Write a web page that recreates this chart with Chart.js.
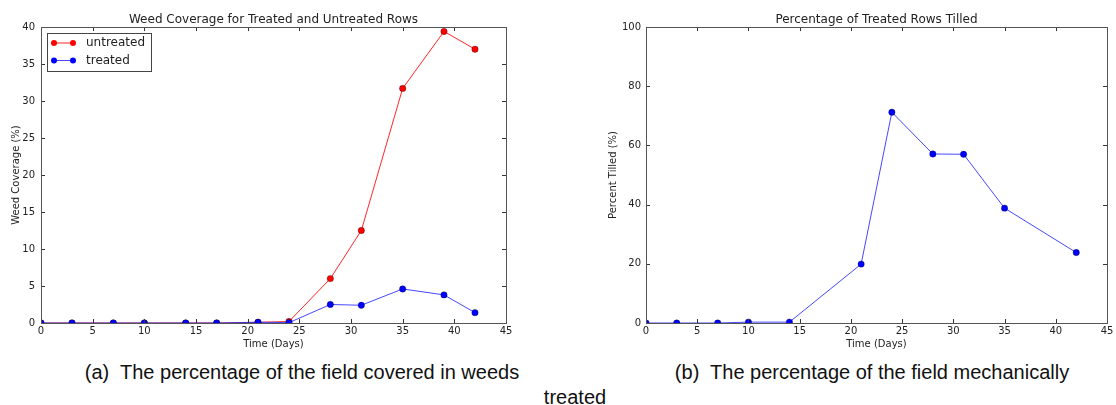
<!DOCTYPE html>
<html>
<head>
<meta charset="utf-8">
<script src="https://cdn.jsdelivr.net/npm/chart.js@4/dist/chart.umd.min.js"></script>
<style>
    body { margin: 0; background: #fff; width: 1116px; height: 405px; overflow: hidden; position: relative; }
    canvas { position: absolute; top: 0; }
    #weedChart { left: 0; }
    #tillChart { left: 590px; }
    .caption { position: absolute; font-family: 'Liberation Sans', Arial, sans-serif; font-size: 20px; color: #111; white-space: pre; transform: translateX(-50%); }
</style>
</head>
<body>
<canvas id="weedChart" width="520" height="352"></canvas>
<canvas id="tillChart" width="526" height="352"></canvas>
<div class="caption" style="left:302px; top:361px;">(a)  The percentage of the field covered in weeds</div>
<div class="caption" style="left:872px; top:361px;">(b)  The percentage of the field mechanically</div>
<div class="caption" style="left:575px; top:386px;">treated</div>
<script>
// weed coverage (left)
const weedDays = [0, 3, 7, 10, 14, 17, 21, 24, 28, 31, 35, 39, 42];
const untreated = [0, 0, 0, 0, 0, 0, 0.1, 0.2, 6.0, 12.5, 31.7, 39.4, 37.0];
const treated = [0, 0, 0, 0, 0, 0, 0.1, 0.05, 2.5, 2.4, 4.6, 3.8, 1.4];

// tilled rows (right)
const tillDays = [0, 3, 7, 10, 14, 21, 24, 28, 31, 35, 42];
const tilled = [0, 0, 0, 0.3, 0.3, 19.9, 71.2, 57.1, 57.0, 38.8, 23.8];

const xTicks = [0, 5, 10, 15, 20, 25, 30, 35, 40, 45];
const weedTicks = [0, 5, 10, 15, 20, 25, 30, 35, 40];
const tillTicks = [0, 20, 40, 60, 80, 100];

const FONT = "'DejaVu Sans', Verdana, sans-serif";

function pts(xs, ys) {
    return xs.map((x, i) => ({ x: x, y: ys[i] }));
}

// matplotlib style frame, inward ticks and title over the axes
const framePlugin = {
    id: 'frame',
    afterDraw(chart, args, opts) {
        const { ctx, chartArea: a } = chart;
        const xs = chart.scales.x, ys = chart.scales.y;
        ctx.save();
        ctx.strokeStyle = '#333';
        ctx.lineWidth = 1;
        ctx.beginPath();
        xs.ticks.forEach(t => {
            const px = Math.round(xs.getPixelForValue(t.value)) + 0.5;
            ctx.moveTo(px, a.bottom); ctx.lineTo(px, a.bottom - 4);
            ctx.moveTo(px, a.top); ctx.lineTo(px, a.top + 4);
        });
        ys.ticks.forEach(t => {
            const py = Math.round(ys.getPixelForValue(t.value)) + 0.5;
            ctx.moveTo(a.left, py); ctx.lineTo(a.left + 4, py);
            ctx.moveTo(a.right, py); ctx.lineTo(a.right - 4, py);
        });
        ctx.stroke();
        ctx.strokeStyle = '#555';
        ctx.strokeRect(Math.round(a.left) + 0.5, Math.round(a.top) + 0.5,
            Math.round(a.right - a.left), Math.round(a.bottom - a.top));
        ctx.fillStyle = '#222';
        ctx.font = '12px ' + FONT;
        ctx.textAlign = 'center';
        ctx.textBaseline = 'alphabetic';
        ctx.fillText(opts.title, (a.left + a.right) / 2, a.top - 4);
        ctx.restore();
    }
};

// legend drawn inside the plot, upper left
const boxLegend = {
    id: 'boxLegend',
    afterDraw(chart, args, opts) {
        if (!opts.show) return;
        const { ctx, chartArea: a } = chart;
        const x0 = a.left + 6, y0 = a.top + 6;
        ctx.save();
        ctx.fillStyle = '#fff';
        ctx.fillRect(x0, y0, 104, 38);
        ctx.strokeStyle = '#444';
        ctx.lineWidth = 1;
        ctx.strokeRect(x0 + 0.5, y0 + 0.5, 104, 38);
        const items = [...chart.data.datasets].sort((p, q) => q.order - p.order);
        items.forEach((ds, i) => {
            const y = y0 + 10 + i * 17.5;
            ctx.strokeStyle = ds.borderColor;
            ctx.beginPath();
            ctx.moveTo(x0 + 7, y); ctx.lineTo(x0 + 26, y);
            ctx.stroke();
            ctx.fillStyle = ds.pointBackgroundColor;
            [x0 + 7, x0 + 26].forEach(px => {
                ctx.beginPath();
                ctx.arc(px, y, 3, 0, Math.PI * 2);
                ctx.fill();
            });
            ctx.fillStyle = '#222';
            ctx.font = '12px ' + FONT;
            ctx.textAlign = 'left';
            ctx.textBaseline = 'middle';
            ctx.fillText(ds.label, x0 + 39, y);
        });
        ctx.restore();
    }
};

function series(label, data, color, line, order) {
    return {
        label: label,
        data: data,
        borderColor: line,
        borderWidth: 1,
        pointBackgroundColor: color,
        pointBorderColor: 'rgba(0,0,0,0.6)',
        pointBorderWidth: 0.5,
        pointRadius: 3.2,
        pointHoverRadius: 3.2,
        tension: 0,
        order: order
    };
}

function makeOptions(o) {
    return {
        responsive: false,
        animation: false,
        events: [],
        layout: { padding: { left: 0, right: o.padRight, top: 27, bottom: 0 } },
        plugins: {
            legend: { display: false },
            tooltip: { enabled: false },
            frame: { title: o.title },
            boxLegend: { show: o.legend }
        },
        scales: {
            x: {
                type: 'linear', min: 0, max: 45,
                afterBuildTicks: s => { s.ticks = xTicks.map(v => ({ value: v })); },
                afterFit: s => { s.height = 29; },
                grid: { display: false, drawTicks: false },
                border: { display: false },
                ticks: { padding: 2, color: '#222', font: { family: FONT, size: 10 }, maxRotation: 0 },
                title: { display: true, text: 'Time (Days)', color: '#222', font: { family: FONT, size: 10 }, padding: { top: 0, bottom: 2 } }
            },
            y: {
                type: 'linear', min: 0, max: o.yMax,
                afterBuildTicks: s => { s.ticks = o.yTicks.map(v => ({ value: v })); },
                afterFit: s => { s.width = o.yWidth; },
                grid: { display: false, drawTicks: false },
                border: { display: false },
                ticks: { padding: o.tickPad, color: '#222', font: { family: FONT, size: 10 } },
                title: { display: true, text: o.yTitle, color: '#222', font: { family: FONT, size: 10 }, padding: { top: o.titlePad, bottom: 0 } }
            }
        }
    };
}

new Chart(document.getElementById('weedChart'), {
    type: 'line',
    data: {
        datasets: [
            series('untreated', pts(weedDays, untreated), '#ff0000', 'rgba(255,0,0,0.85)', 1),
            series('treated', pts(weedDays, treated), '#0000ff', 'rgba(40,40,255,0.85)', 0)
        ]
    },
    options: makeOptions({
        title: 'Weed Coverage for Treated and Untreated Rows',
        yTitle: 'Weed Coverage (%)',
        yMax: 40, yTicks: weedTicks, yWidth: 41, tickPad: 6, titlePad: 10,
        padRight: 14, legend: true
    }),
    plugins: [framePlugin, boxLegend]
});

new Chart(document.getElementById('tillChart'), {
    type: 'line',
    data: {
        datasets: [
            series('tilled', pts(tillDays, tilled), '#0000ff', 'rgba(40,40,255,0.85)', 0)
        ]
    },
    options: makeOptions({
        title: 'Percentage of Treated Rows Tilled',
        yTitle: 'Percent Tilled (%)',
        yMax: 100, yTicks: tillTicks, yWidth: 56, tickPad: 5, titlePad: 17,
        padRight: 9, legend: false
    }),
    plugins: [framePlugin, boxLegend]
});
</script>
</body>
</html>
